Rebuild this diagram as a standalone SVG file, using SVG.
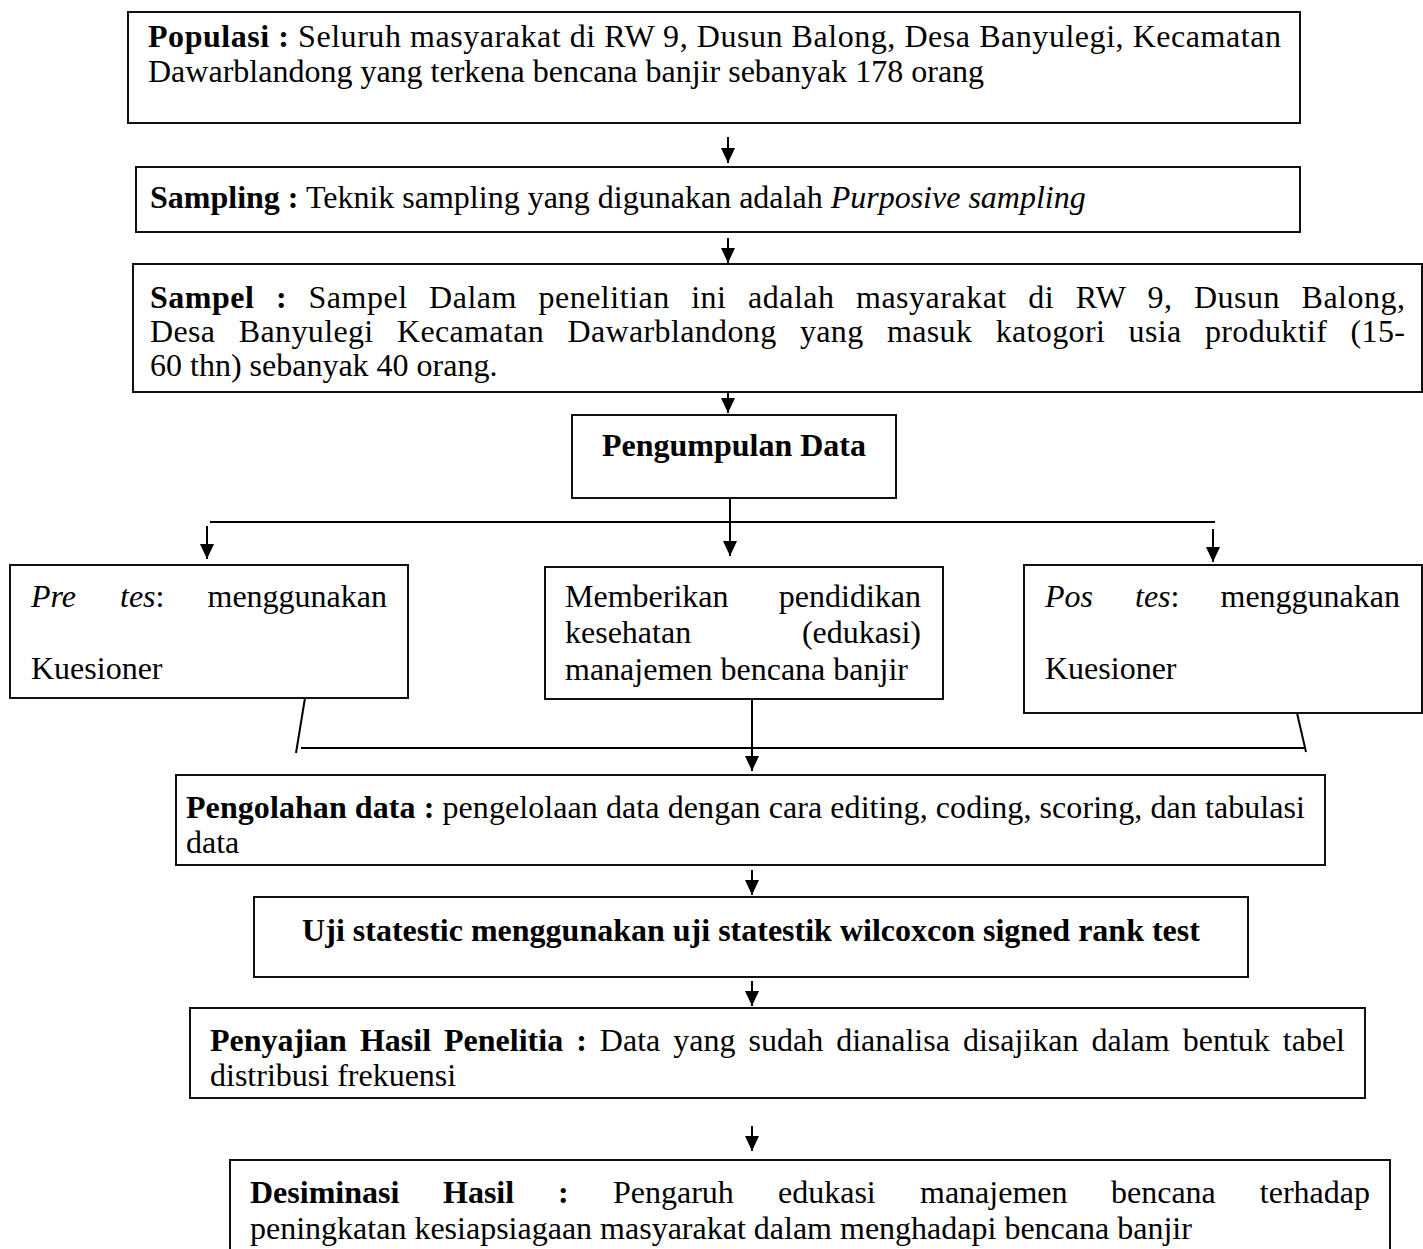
<svg xmlns="http://www.w3.org/2000/svg" width="1423" height="1249" viewBox="0 0 1423 1249">
<style>
text{font-family:"Liberation Serif","Times New Roman",serif;font-size:32px;fill:#000}
.b{font-weight:bold}
.i{font-style:italic}
.box{fill:#fff;stroke:#111;stroke-width:2}
.ln{stroke:#000;stroke-width:2;fill:none}
</style>
<defs>
<marker id="ah" markerUnits="userSpaceOnUse" markerWidth="15" markerHeight="14" viewBox="0 0 15 14" refX="15" refY="7" orient="auto">
<path d="M0,0 L15,7 L0,14 z" fill="#000"/>
</marker>
</defs>
<rect width="1423" height="1249" fill="#fff"/>
<g id="connectors">
<line class="ln" x1="728" y1="137" x2="728" y2="163" marker-end="url(#ah)"/>
<line class="ln" x1="728" y1="238" x2="728" y2="263" marker-end="url(#ah)"/>
<line class="ln" x1="728" y1="379" x2="728" y2="413" marker-end="url(#ah)"/>
<line class="ln" x1="730" y1="498" x2="730" y2="556" marker-end="url(#ah)"/>
<line class="ln" x1="210" y1="522" x2="1215" y2="522"/>
<line class="ln" x1="207" y1="526" x2="207" y2="559" marker-end="url(#ah)"/>
<line class="ln" x1="1213" y1="529" x2="1213" y2="562" marker-end="url(#ah)"/>
<line class="ln" x1="305" y1="698" x2="296" y2="753"/>
<line class="ln" x1="301" y1="748" x2="1304" y2="748"/>
<line class="ln" x1="1297" y1="713" x2="1306" y2="752"/>
<line class="ln" x1="752" y1="699" x2="752" y2="771" marker-end="url(#ah)"/>
<line class="ln" x1="752" y1="870" x2="752" y2="895" marker-end="url(#ah)"/>
<line class="ln" x1="752" y1="981" x2="752" y2="1006" marker-end="url(#ah)"/>
<line class="ln" x1="752" y1="1126" x2="752" y2="1151" marker-end="url(#ah)"/>
</g>
<g id="populasi">
<rect class="box" x="128" y="12" width="1172" height="111"/>
<text x="148" y="47" textLength="1133" lengthAdjust="spacing"><tspan class="b">Populasi :</tspan> Seluruh masyarakat di RW 9, Dusun Balong, Desa Banyulegi, Kecamatan</text>
<text x="148" y="82">Dawarblandong yang terkena bencana banjir sebanyak 178 orang</text>
</g>
<g id="sampling">
<rect class="box" x="136" y="167" width="1164" height="65"/>
<text x="150" y="208"><tspan class="b">Sampling :</tspan> Teknik sampling yang digunakan adalah <tspan class="i">Purposive sampling</tspan></text>
</g>
<g id="sampel">
<rect class="box" x="133" y="264" width="1289" height="128"/>
<text x="150" y="308" word-spacing="13" textLength="1255" lengthAdjust="spacing"><tspan class="b">Sampel :</tspan> Sampel Dalam penelitian ini adalah masyarakat di RW 9, Dusun Balong,</text>
<text x="150" y="342" word-spacing="15" textLength="1255" lengthAdjust="spacing">Desa Banyulegi Kecamatan Dawarblandong yang masuk katogori usia produktif (15-</text>
<text x="150" y="376">60 thn) sebanyak 40 orang.</text>
</g>
<g id="pengumpulan">
<rect class="box" x="572" y="415" width="324" height="83"/>
<text class="b" x="734" y="456" text-anchor="middle">Pengumpulan Data</text>
</g>
<g id="pretes">
<rect class="box" x="10" y="565" width="398" height="133"/>
<text x="31" y="607"><tspan class="i">Pre</tspan><tspan x="120" class="i">tes</tspan>:</text>
<text x="387" y="607" text-anchor="end">menggunakan</text>
<text x="31" y="679">Kuesioner</text>
</g>
<g id="edukasi">
<rect class="box" x="545" y="567" width="398" height="132"/>
<text x="565" y="607">Memberikan</text>
<text x="921" y="607" text-anchor="end">pendidikan</text>
<text x="565" y="643">kesehatan</text>
<text x="921" y="643" text-anchor="end">(edukasi)</text>
<text x="565" y="680">manajemen bencana banjir</text>
</g>
<g id="postes">
<rect class="box" x="1024" y="565" width="398" height="148"/>
<text x="1045" y="607"><tspan class="i">Pos</tspan><tspan x="1135" class="i">tes</tspan>:</text>
<text x="1400" y="607" text-anchor="end">menggunakan</text>
<text x="1045" y="679">Kuesioner</text>
</g>
<g id="pengolahan">
<rect class="box" x="176" y="775" width="1149" height="90"/>
<text x="186" y="818" textLength="1119" lengthAdjust="spacing"><tspan class="b">Pengolahan data :</tspan> pengelolaan data dengan cara editing, coding, scoring, dan tabulasi</text>
<text x="186" y="853">data</text>
</g>
<g id="uji">
<rect class="box" x="254" y="897" width="994" height="80"/>
<text class="b" x="751" y="941" text-anchor="middle">Uji statestic menggunakan uji statestik wilcoxcon signed rank test</text>
</g>
<g id="penyajian">
<rect class="box" x="190" y="1008" width="1175" height="90"/>
<text x="210" y="1051" word-spacing="5" textLength="1135" lengthAdjust="spacing"><tspan class="b">Penyajian Hasil Penelitia :</tspan> Data yang sudah dianalisa disajikan dalam bentuk tabel</text>
<text x="210" y="1086">distribusi frekuensi</text>
</g>
<g id="desiminasi">
<rect class="box" x="230" y="1160" width="1160" height="100"/>
<text y="1203"><tspan class="b" x="250">Desiminasi</tspan><tspan class="b" x="443">Hasil</tspan><tspan class="b" x="558">:</tspan><tspan x="613">Pengaruh</tspan><tspan x="778">edukasi</tspan><tspan x="920">manajemen</tspan><tspan x="1111">bencana</tspan></text>
<text x="1370" y="1203" text-anchor="end">terhadap</text>
<text x="250" y="1239">peningkatan kesiapsiagaan masyarakat dalam menghadapi bencana banjir</text>
</g>
</svg>
